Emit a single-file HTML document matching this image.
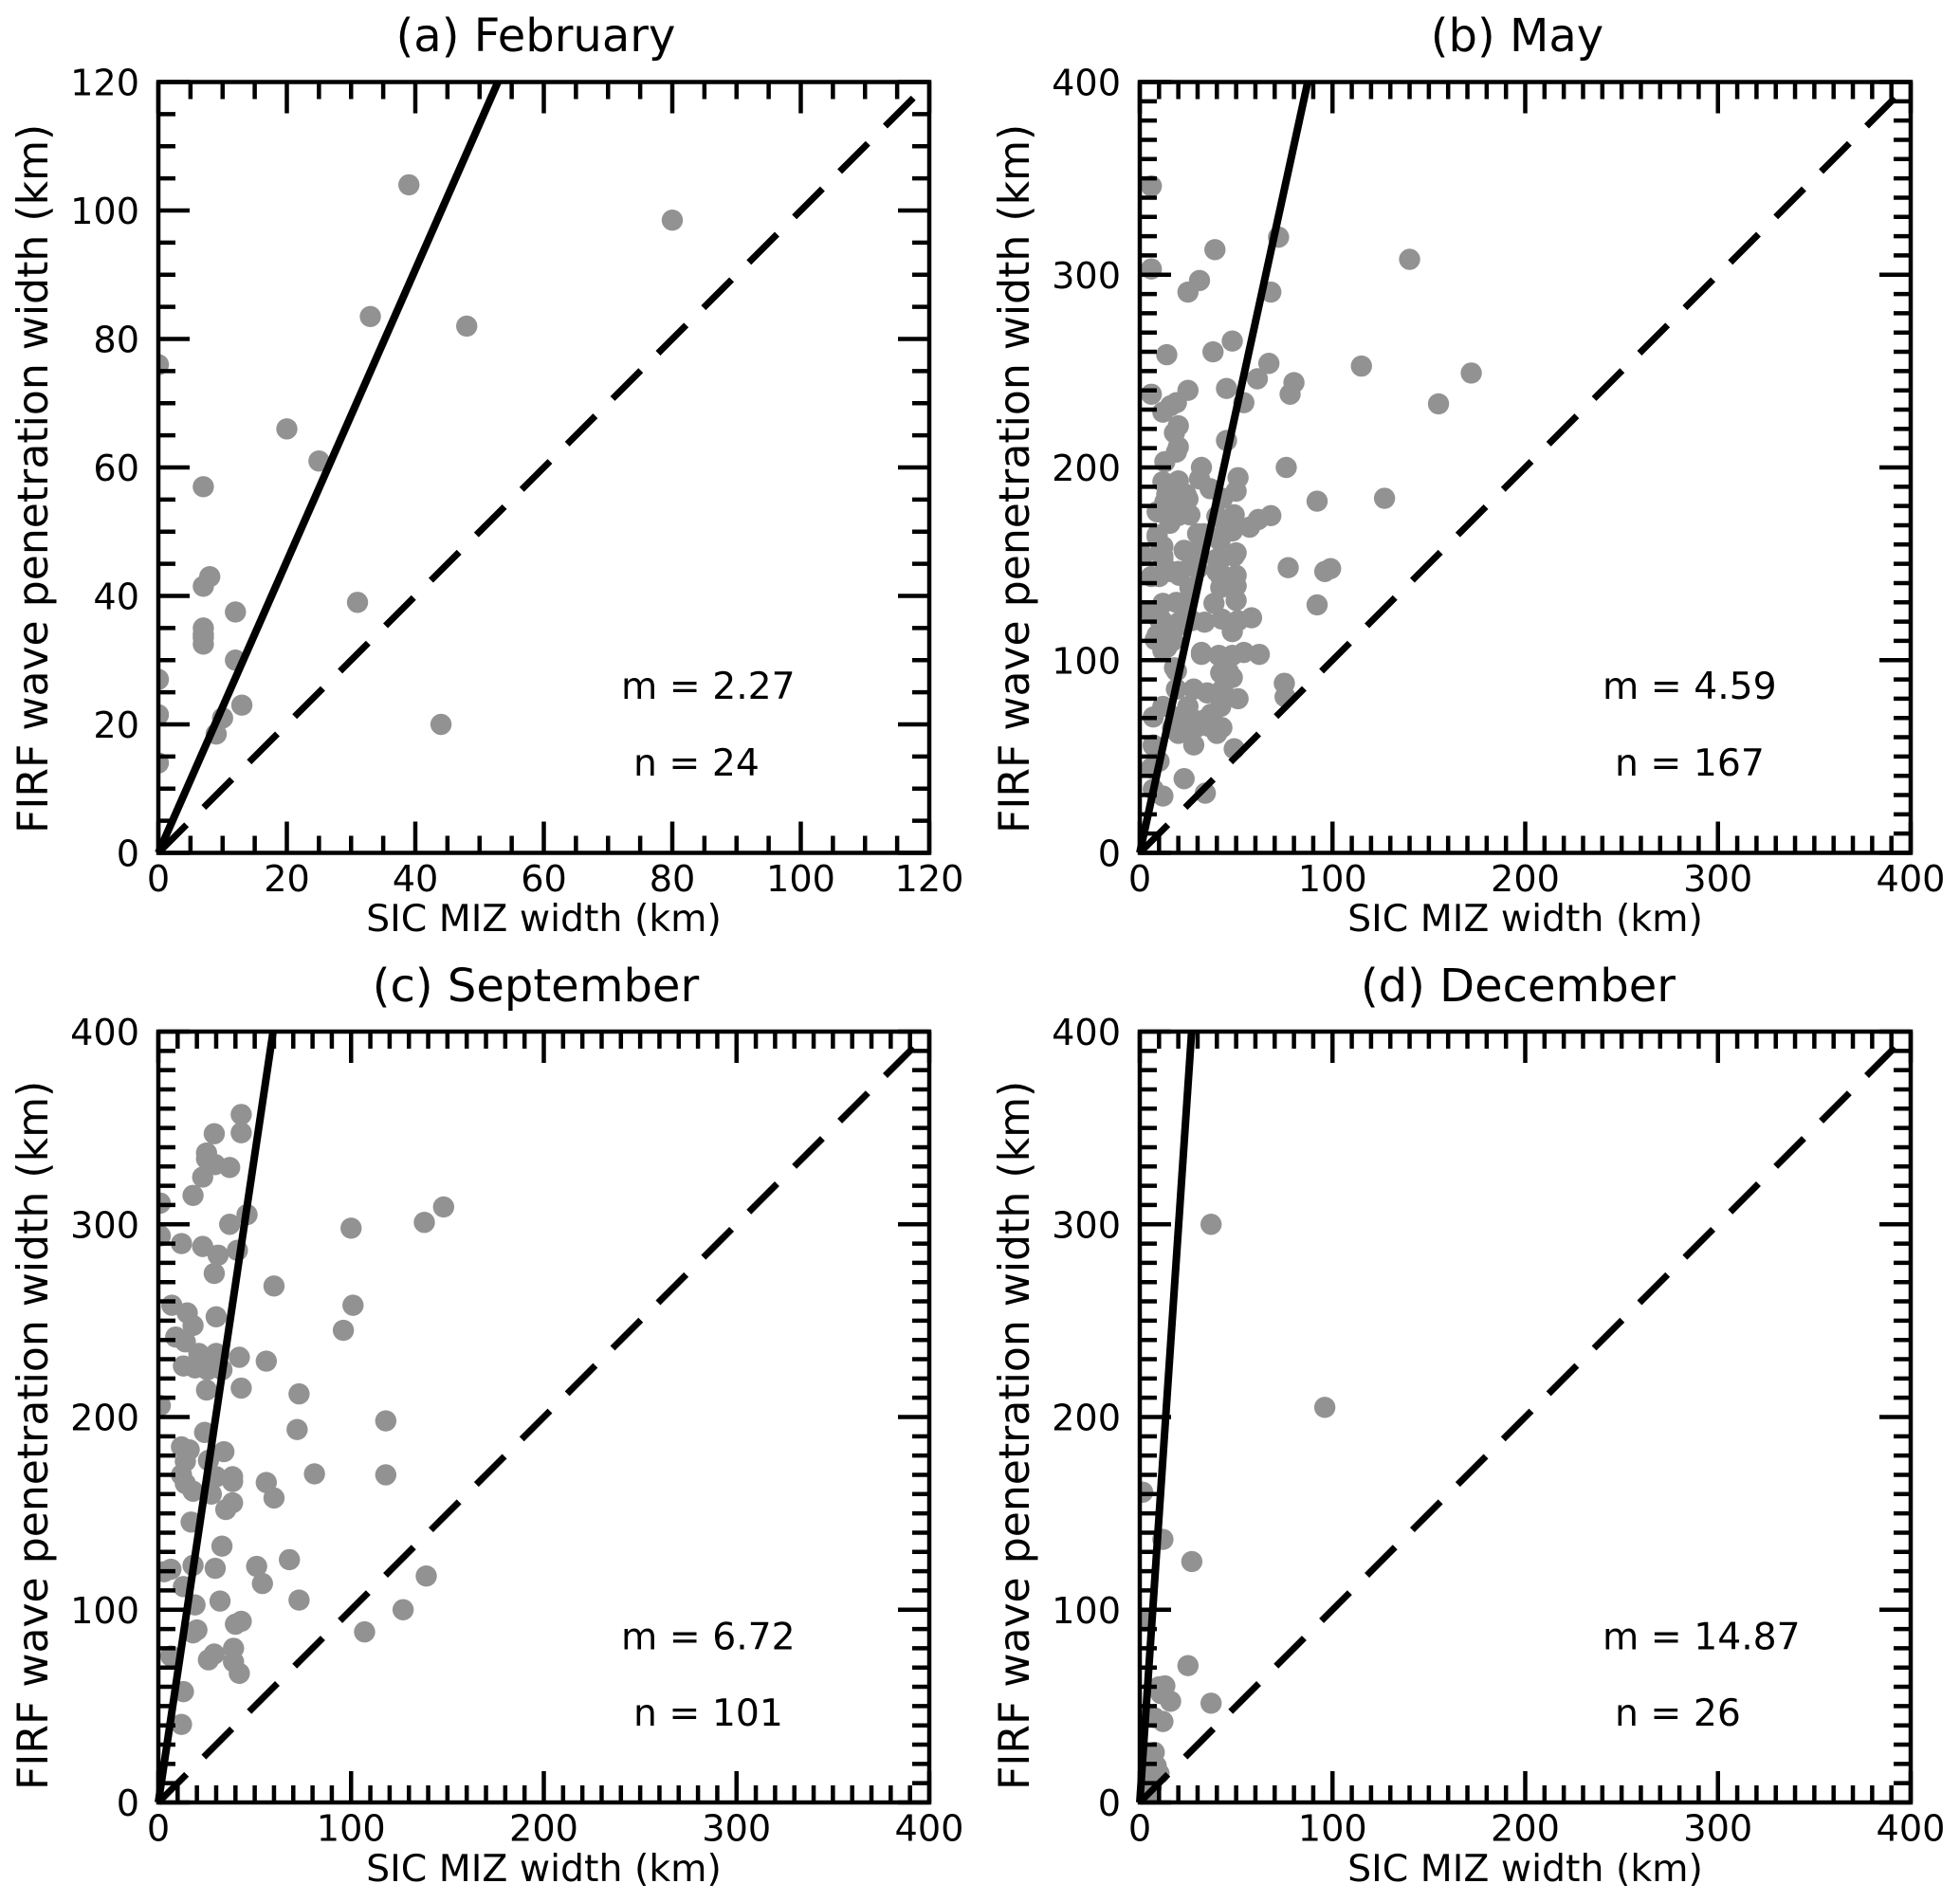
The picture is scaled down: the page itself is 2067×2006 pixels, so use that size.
<!DOCTYPE html>
<html lang="en">
<head>
<meta charset="utf-8">
<title>FIRF wave penetration width vs SIC MIZ width</title>
<style>
  html, body { margin: 0; padding: 0; background: #fff; }
  svg { display: block; }
  text { font-family: "DejaVu Sans", "Liberation Sans", sans-serif; fill: #000; }
  .title { font-size: 48px; text-anchor: middle; }
  .ylab { font-size: 44.1px; }
  .xlab { font-size: 39.4px; text-anchor: middle; }
  .note { font-size: 39.3px; }
</style>
</head>
<body>
<svg id="figure" xmlns="http://www.w3.org/2000/svg" width="2067" height="2006" viewBox="0 0 2067 2006">
  <rect width="2067" height="2006" fill="#ffffff"/>
  <defs>
    <clipPath id="clip-a"><rect x="167" y="86.5" width="813" height="813"/></clipPath>
    <clipPath id="clip-b"><rect x="1202" y="86.5" width="813" height="813"/></clipPath>
    <clipPath id="clip-c"><rect x="167" y="1088" width="813" height="813"/></clipPath>
    <clipPath id="clip-d"><rect x="1202" y="1088" width="813" height="813"/></clipPath>
  </defs>

  <g id="panel-a">
    <text class="title" x="565" y="54">(a) February</text>
    <text class="ylab" transform="translate(50,879) rotate(-90)">FIRF wave penetration width (km)</text>
    <text class="xlab" x="573.5" y="982">SIC MIZ width (km)</text>
    <text class="note" x="655" y="737">m = 2.27</text>
    <text class="note" x="668" y="818">n = 24</text>
  </g>
  <g id="panel-b">
    <text class="title" x="1600" y="54">(b) May</text>
    <text class="ylab" transform="translate(1085,879) rotate(-90)">FIRF wave penetration width (km)</text>
    <text class="xlab" x="1608.5" y="982">SIC MIZ width (km)</text>
    <text class="note" x="1690" y="737">m = 4.59</text>
    <text class="note" x="1703" y="818">n = 167</text>
  </g>
  <g id="panel-c">
    <text class="title" x="565" y="1056">(c) September</text>
    <text class="ylab" transform="translate(50,1888) rotate(-90)">FIRF wave penetration width (km)</text>
    <text class="xlab" x="573.5" y="1984">SIC MIZ width (km)</text>
    <text class="note" x="655" y="1739.5">m = 6.72</text>
    <text class="note" x="668" y="1820">n = 101</text>
  </g>
  <g id="panel-d">
    <text class="title" x="1601" y="1056">(d) December</text>
    <text class="ylab" transform="translate(1085,1888) rotate(-90)">FIRF wave penetration width (km)</text>
    <text class="xlab" x="1608.5" y="1984">SIC MIZ width (km)</text>
    <text class="note" x="1690" y="1739.5">m = 14.87</text>
    <text class="note" x="1703" y="1820">n = 26</text>
  </g>
</svg>

<script>
// ---- chart data ----
const febSicWidth = [0,0,0,0,7,7,8,7,7,7,7,12,12,13,10,9,20,25,33,39,48,80,31,44];
const febFirfWidth = [76,27,21.5,14,57,41.5,43,35,34,33.5,32.5,37.5,30,23,21,18.5,66,61,83.5,104,82,98.5,39,20];

const maySicWidth = [6,6,39,72,140,31,25,68,14,38,48,67,61,80,78,115,172,155,6,25,45,54,19,16,12,20,18,45,20,19,13,32,76,51,31,12,20,36.5,50,92,127,14,25,43,9,19,24,14,26,20,15.6,40,49,68,61.5,57,49,43.4,33,9,12,12,23,1.6,30,49,42,77,99,96,92,6,10,16,20.5,30,40,50,43,50,42,26,50,38.5,12,19,23,6,11.5,58,51,42.6,33.6,20.5,27,48,18,9,8,14,17,32,41,54,62,48,12,18,42,48,46,75,75.4,51,42,19,28,35,43,12,7,25,20,28,33.6,42.6,20,28,40,49,7,10,6,23,34,12,7,30,37,25,38.5,14,24,13,11,9,12,20,27,30,41.6,48,50,40,42,22,10.5,5,17,12,26,36,24,17,32,19,45,7];
const mayFirfWidth = [346,303,313,319.5,308,297,291,291,258.5,260,265.6,254,246,244,238,252.6,249,233,238,240,241,233.6,233.6,232,228.7,221.6,218,214,210.6,208,203,200,200,194.7,194,192.6,193,189,187.7,182.5,184,182.8,183.6,184,177,178.7,177,175.4,175.4,175,171,174.6,175.4,175,173,169,169.7,165.6,165.6,164,159,154,157,154.4,157,154,152.5,148,147.5,146,128.7,143.4,143.4,146,144,147.5,146,144,144,138.5,137.7,137.7,131,129.5,129.5,130,129.5,124.6,120.5,122,120.5,121.3,119.7,119.7,120.5,114.8,116.4,113,110.6,106.6,110,104,102.5,104,103,102.5,105,96,93.4,91,94,88,81,80,76,85,85,83,85,76,70.5,76,70.5,69,69,65,62,56,62,54,56,47.5,44,38.5,31,29.5,33,65.5,72,65.5,67,186,186,182,157,165,152.5,146,150,165.6,162,167,155.7,152.5,143.4,119.7,120.5,125.4,114.8,114.8,63,65.6,67,65,103,94.4,91.8,55.7];

const sepSicWidth = [43,43,29,25,25,29.5,37,23,18,1,46,37,100,138,148,1,12,23,31,41,29,60,7,15,30,101,96,18,9,14,21,30,42,56,13,19,25.5,33,25,43,73,1,118,72,24,12,16,14,34,26,12,14,18,30,38.5,38.5,27.5,56,60,81,118,38.5,35,17,33,6.5,3,18,29.5,51,68,54,13,19,32,73,139,127,107,20,18,43,40,39,29,26,39,42,6.5,13,12];
const sepFirfWidth = [357,347.5,347,337,334,331,329.5,324.5,315,311,305,300,298,301,309,294,290,288.5,284,286.5,274.5,268,258,254,252,258,245,247.5,241.5,239,233,233,231,229,226.5,225.5,224.5,224.5,214,215,212,206,198,193.5,192,184.5,183,177,182,177.5,170,165.5,161.5,169,169,166.5,160,166,158,170.5,170,155.5,152,145.5,133,121,119.7,123,121.5,122.5,126,113.6,112,102.5,104.5,105,117.5,100,88.5,89.5,88,94,92.5,80,77,74,73,67,76,57.5,40.5];

const decSicWidth = [37,96,1.5,12,27,2.5,25,13,10,11,16,37,7.5,12,7.5,8.5,10,6.5,4,3,5,6,6,6,4,2];
const decFirfWidth = [300,205,161,136.5,125,94,71,60.5,60,56.5,52.5,51.5,44,42,26,19,15,13,8,5,11.5,21,16.5,8,3,12];

const febTicks = [0,20,40,60,80,100,120];
const mayTicks = [0,100,200,300,400];
const sepTicks = [0,100,200,300,400];
const decTicks = [0,100,200,300,400];

const panelSlopes = [2.27, 4.59, 6.72, 14.87];
const panelXMax = [120, 400, 400, 400];
const panelMinorStep = [5, 10, 10, 10];
const panelOrigins = ['a', 'b', 'c', 'd'];

// ---- layout ----
const SVGNS = 'http://www.w3.org/2000/svg';
const AXIS_SIZE = 813;
const MAJOR_LEN = 33;
const MINOR_LEN = 18;
const DOT_R = 11.2;
const DOT_COLOR = '#929292';

function make(tag, parent) {
  const el = document.createElementNS(SVGNS, tag);
  parent.appendChild(el);
  return el;
}

function drawPanel(id, left, top, xs, ys, ticks, slope, axisMax, minorStep) {
  const g = document.getElementById('panel-' + id);
  const bottom = top + AXIS_SIZE;
  const right = left + AXIS_SIZE;
  const xPos = v => left + (v / axisMax) * AXIS_SIZE;
  const yPos = v => bottom - (v / axisMax) * AXIS_SIZE;

  // scatter points, clipped to the axes
  const dots = make('g', g);
  
  
  dots.setAttribute('clip-path', 'url(#clip-' + id + ')');
  for (let i = 0; i < xs.length; i++) {
    const c = make('circle', dots);
    
    
    c.setAttribute('cx', xPos(xs[i]));
    c.setAttribute('cy', yPos(ys[i]));
    c.setAttribute('r', DOT_R);
    c.setAttribute('fill', DOT_COLOR);
  }

  // one-to-one dashed reference line
  const ref = make('line', g);
  
  
  ref.setAttribute('x1', xPos(0));
  ref.setAttribute('y1', yPos(0));
  ref.setAttribute('x2', xPos(axisMax));
  ref.setAttribute('y2', yPos(axisMax));
  ref.setAttribute('stroke', '#000');
  ref.setAttribute('stroke-width', '7');
  ref.setAttribute('stroke-dasharray', '42 25.75');

  // solid fit line y = m x, running to the top of the axes
  const endX = Math.min(axisMax / slope, axisMax);
  const fit = make('line', g);
  
  
  fit.setAttribute('x1', xPos(0));
  fit.setAttribute('y1', yPos(0));
  fit.setAttribute('x2', xPos(endX));
  fit.setAttribute('y2', yPos(endX * slope));
  fit.setAttribute('stroke', '#000');
  fit.setAttribute('stroke-width', '8');

  // tick marks on all four sides, pointing inward
  function addTick(x1, y1, x2, y2, name) {
    const t = make('line', g);
    
    
    t.setAttribute('x1', x1);
    t.setAttribute('y1', y1);
    t.setAttribute('x2', x2);
    t.setAttribute('y2', y2);
    t.setAttribute('stroke', '#000');
    t.setAttribute('stroke-width', '4.5');
  }
  for (let v = 0; v <= axisMax; v += minorStep) {
    const isMajor = ticks.indexOf(v) !== -1;
    const len = isMajor ? MAJOR_LEN : MINOR_LEN;
    const name = isMajor ? 'major-tick' : 'minor-tick';
    addTick(xPos(v), bottom, xPos(v), bottom - len, name);
    addTick(xPos(v), top, xPos(v), top + len, name);
    addTick(left, yPos(v), left + len, yPos(v), name);
    addTick(right, yPos(v), right - len, yPos(v), name);
  }

  // axes frame
  const frame = make('rect', g);
  
  
  frame.setAttribute('x', left);
  frame.setAttribute('y', top);
  frame.setAttribute('width', AXIS_SIZE);
  frame.setAttribute('height', AXIS_SIZE);
  frame.setAttribute('fill', 'none');
  frame.setAttribute('stroke', '#000');
  frame.setAttribute('stroke-width', '4.5');

  // tick labels
  ticks.forEach(v => {
    const xl = make('text', g);
    
    
    xl.setAttribute('x', xPos(v));
    xl.setAttribute('y', bottom + 40.5);
    xl.setAttribute('text-anchor', 'middle');
    xl.setAttribute('font-size', '38.2');
    xl.textContent = String(v);

    const yl = make('text', g);
    
    
    yl.setAttribute('x', left - 20);
    yl.setAttribute('y', yPos(v) + 14);
    yl.setAttribute('text-anchor', 'end');
    yl.setAttribute('font-size', '38.2');
    yl.textContent = String(v);
  });
}

drawPanel(panelOrigins[0], 167, 86.5, febSicWidth, febFirfWidth, febTicks, panelSlopes[0], panelXMax[0], panelMinorStep[0]);
drawPanel(panelOrigins[1], 1202, 86.5, maySicWidth, mayFirfWidth, mayTicks, panelSlopes[1], panelXMax[1], panelMinorStep[1]);
drawPanel(panelOrigins[2], 167, 1088, sepSicWidth, sepFirfWidth, sepTicks, panelSlopes[2], panelXMax[2], panelMinorStep[2]);
drawPanel(panelOrigins[3], 1202, 1088, decSicWidth, decFirfWidth, decTicks, panelSlopes[3], panelXMax[3], panelMinorStep[3]);
</script>
</body>
</html>
